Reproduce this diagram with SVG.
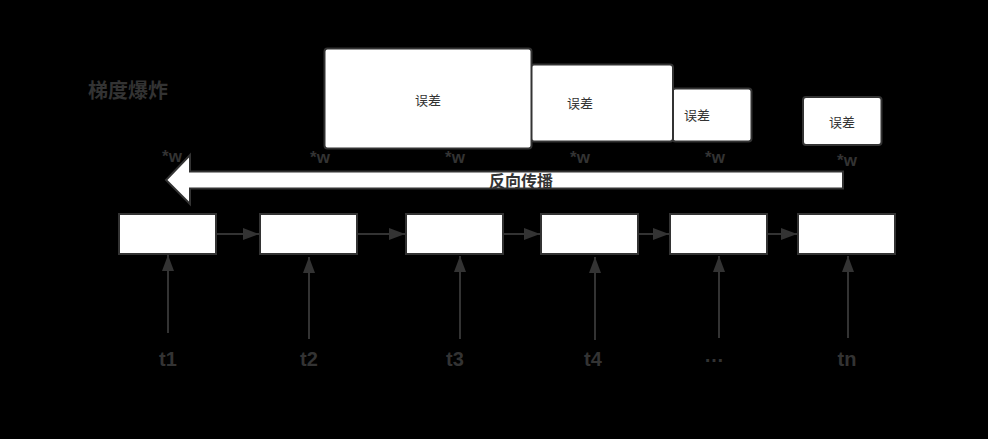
<svg xmlns="http://www.w3.org/2000/svg" width="988" height="439" viewBox="0 0 988 439">
<style>
text{font-family:"Liberation Sans","Noto Sans CJK SC",sans-serif;fill:#333333}
.box{fill:#ffffff;stroke:#333333;stroke-width:2}
.err{font-size:13px;text-anchor:middle;dominant-baseline:central}
.w{font-size:17px;font-weight:bold;text-anchor:middle}
.t{font-size:20px;font-weight:bold;text-anchor:middle}
.ln{stroke:#333333;stroke-width:2;fill:none;marker-end:url(#ah)}
</style>
<defs>
<marker id="ah" markerUnits="userSpaceOnUse" markerWidth="16" markerHeight="12" refX="16" refY="6" orient="auto">
<path d="M0,0 L16,6 L0,12 z" fill="#333333"/>
</marker>
</defs>
<rect x="0" y="0" width="988" height="439" fill="#000000"/>
<g id="title"><text x="88" y="91" font-size="20" font-weight="bold" dominant-baseline="central">梯度爆炸</text></g>
<g id="err3"><rect class="box" x="672.5" y="88.5" width="79" height="53" rx="3"/><text class="err" x="697" y="115">误差</text></g>
<g id="err2"><rect class="box" x="531" y="64.5" width="142" height="77" rx="3"/><text class="err" x="580" y="103">误差</text></g>
<g id="err1"><rect class="box" x="324.5" y="48.5" width="207" height="100" rx="3"/><text class="err" x="428" y="100">误差</text></g>
<g id="err4"><rect class="box" x="803" y="97" width="78.5" height="48" rx="3"/><text class="err" x="842" y="122">误差</text></g>
<g id="wlabels">
<text class="w" x="172" y="162">*w</text>
<text class="w" x="320" y="163">*w</text>
<text class="w" x="455" y="163">*w</text>
<text class="w" x="580" y="163">*w</text>
<text class="w" x="715" y="163">*w</text>
<text class="w" x="847" y="166">*w</text>
</g>
<g id="backprop">
<path d="M843,171.5 L190,171.5 L190,155 L166,180 L190,204 L190,188.5 L843,188.5 Z" fill="#ffffff" stroke="#333333" stroke-width="2" stroke-linejoin="miter"/>
<text x="521" y="181" font-size="16" font-weight="bold" text-anchor="middle" dominant-baseline="central" fill="#222222">反向传播</text>
</g>
<g id="n1"><rect class="box" x="119" y="214" width="97" height="40"/></g>
<g id="n2"><rect class="box" x="260" y="214" width="97" height="40"/></g>
<g id="n3"><rect class="box" x="406" y="214" width="97" height="40"/></g>
<g id="n4"><rect class="box" x="541" y="214" width="97" height="40"/></g>
<g id="n5"><rect class="box" x="670" y="214" width="97" height="40"/></g>
<g id="n6"><rect class="box" x="798" y="214" width="97" height="40"/></g>
<g id="connectors">
<line class="ln" x1="216" y1="234" x2="259" y2="234"/>
<line class="ln" x1="357" y1="234" x2="405" y2="234"/>
<line class="ln" x1="503" y1="234" x2="540" y2="234"/>
<line class="ln" x1="638" y1="234" x2="669" y2="234"/>
<line class="ln" x1="767" y1="234" x2="797" y2="234"/>
<line class="ln" x1="168" y1="333" x2="168" y2="255"/>
<line class="ln" x1="309" y1="339" x2="309" y2="257"/>
<line class="ln" x1="460" y1="339" x2="460" y2="256"/>
<line class="ln" x1="595" y1="340" x2="595" y2="257"/>
<line class="ln" x1="719" y1="338" x2="719" y2="256"/>
<line class="ln" x1="848" y1="338" x2="848" y2="256"/>
</g>
<g id="tlabels">
<text class="t" x="168" y="366">t1</text>
<text class="t" x="309" y="366">t2</text>
<text class="t" x="455" y="366">t3</text>
<text class="t" x="593" y="366">t4</text>
<text class="t" x="714" y="362">…</text>
<text class="t" x="847" y="366">tn</text>
</g>
</svg>
